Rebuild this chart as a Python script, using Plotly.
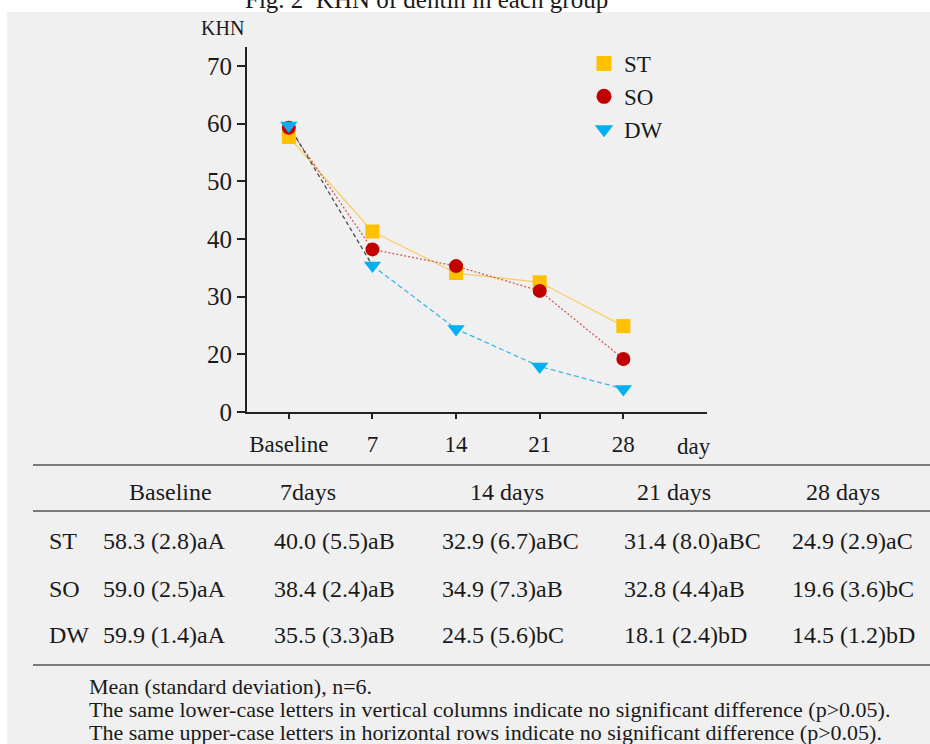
import plotly.graph_objects as go

# ---------------- data ----------------
x_labels = ["Baseline", "7", "14", "21", "28"]
groups = ["ST", "SO", "DW"]
st_values = [57.7, 41.3, 34.1, 32.5, 24.9]
so_values = [59.3, 38.2, 35.3, 31.0, 19.2]
dw_values = [59.7, 35.4, 24.4, 17.9, 14.0]
y_tick_vals = [10, 20, 30, 40, 50, 60, 70]
y_tick_text = ["0", "20", "30", "40", "50", "60", "70"]

table_headers = ["Baseline", "7days", "14 days", "21 days", "28 days"]
table_rows = {
    "ST": ["58.3 (2.8)aA", "40.0 (5.5)aB", "32.9 (6.7)aBC", "31.4 (8.0)aBC", "24.9 (2.9)aC"],
    "SO": ["59.0 (2.5)aA", "38.4 (2.4)aB", "34.9 (7.3)aB", "32.8 (4.4)aB", "19.6 (3.6)bC"],
    "DW": ["59.9 (1.4)aA", "35.5 (3.3)aB", "24.5 (5.6)bC", "18.1 (2.4)bD", "14.5 (1.2)bD"],
}
footnotes = [
    "Mean (standard deviation), n=6.",
    "The same lower-case letters in vertical columns indicate no significant difference (p>0.05).",
    "The same upper-case letters in horizontal rows indicate no significant difference (p>0.05).",
]
title_text = "Fig. 2\u00a0 KHN of dentin in each group"

# ---------------- layout helpers ----------------
L, R, T, B = 247, 707, 47, 412
W, H = R - L, B - T
SERIF = "Liberation Serif"
TXT = "#1a1a1a"


def px(x):
    return (x - L) / W


def py(y):
    return (B - y) / H


xs = list(range(len(x_labels)))

fig = go.Figure()

# lines
fig.add_trace(go.Scatter(x=xs, y=st_values, mode="lines",
                         line=dict(color="#f6cf6a", width=1.3),
                         showlegend=False, hoverinfo="skip"))
fig.add_trace(go.Scatter(x=xs, y=so_values, mode="lines",
                         line=dict(color="#d45a5a", width=1.3, dash="2px,2px"),
                         showlegend=False, hoverinfo="skip"))
# DW line: first segment dark grey dashed, rest blue dashed
fig.add_trace(go.Scatter(x=xs[:2], y=dw_values[:2], mode="lines",
                         line=dict(color="#4a4a4a", width=1.3, dash="4px,3px"),
                         showlegend=False, hoverinfo="skip"))
fig.add_trace(go.Scatter(x=xs[1:], y=dw_values[1:], mode="lines",
                         line=dict(color="#3fb6ea", width=1.3, dash="5px,3px"),
                         showlegend=False, hoverinfo="skip"))
# markers
fig.add_trace(go.Scatter(x=xs, y=st_values, mode="markers",
                         marker=dict(symbol="square", size=14, color="#ffc000"),
                         showlegend=False))
fig.add_trace(go.Scatter(x=xs, y=so_values, mode="markers",
                         marker=dict(symbol="circle", size=14, color="#c00000"),
                         showlegend=False))
fig.add_trace(go.Scatter(x=xs, y=dw_values, mode="markers",
                         marker=dict(symbol="triangle-down", size=15, color="#00b0f0"),
                         showlegend=False))

# legend-only traces
leg_styles = {
    "ST": dict(symbol="square", size=15, color="#ffc000"),
    "SO": dict(symbol="circle", size=15, color="#c00000"),
    "DW": dict(symbol="triangle-down", size=16, color="#00b0f0"),
}
for g in groups:
    fig.add_trace(go.Scatter(x=[None], y=[None], mode="markers", name=g,
                             marker=leg_styles[g]))

shapes = []
# grey background panel
shapes.append(dict(type="rect", xref="paper", yref="paper", layer="below",
                   x0=px(7), x1=px(935), y0=py(12), y1=py(750),
                   fillcolor="#f0f0f0", line=dict(width=0)))
# table rules
for yy in [465, 511, 665]:
    shapes.append(dict(type="line", xref="paper", yref="paper",
                       x0=px(33), x1=px(935), y0=py(yy), y1=py(yy),
                       line=dict(color="#555555", width=1.6)))

annotations = []


def add_text(text, x, y, size, xanchor="center", yanchor="middle"):
    annotations.append(dict(text=text, x=px(x), y=py(y), xref="paper", yref="paper",
                            showarrow=False, xanchor=xanchor, yanchor=yanchor,
                            font=dict(family=SERIF, size=size, color=TXT)))


add_text(title_text, 426, 15, 25, yanchor="bottom")
add_text("KHN", 222, 28, 20)
add_text("day", 694, 446, 23)

header_x = [170, 308, 507, 674, 843]
value_x = [101, 272, 440, 622, 790]
row_y = [541, 589, 635]
for hx, h in zip(header_x, table_headers):
    add_text(h, hx, 492, 24)
for ry, g in zip(row_y, groups):
    add_text(g, 47, ry, 24, xanchor="left")
    for vx, v in zip(value_x, table_rows[g]):
        add_text(v, vx, ry, 24, xanchor="left")

for fy, f in zip([686, 709, 732], footnotes):
    add_text(f, 87, fy, 22, xanchor="left")

fig.update_layout(
    width=930, height=744,
    margin=dict(l=L, r=930 - R, t=T, b=744 - B),
    paper_bgcolor="white",
    plot_bgcolor="rgba(0,0,0,0)",
    showlegend=True,
    legend=dict(x=px(584), y=py(42), xanchor="left", yanchor="top",
                bgcolor="rgba(0,0,0,0)", font=dict(family=SERIF, size=23, color=TXT),
                itemsizing="trace"),
    xaxis=dict(range=[-0.5, 5], tickvals=xs, ticktext=x_labels, showgrid=False,
               zeroline=False, showline=True, linecolor="#222222", linewidth=2,
               ticks="outside", ticklen=5, tickwidth=2, tickcolor="#222222",
               ticklabelstandoff=5,
               tickfont=dict(family=SERIF, size=23, color=TXT)),
    yaxis=dict(range=[10, 73.3], tickvals=y_tick_vals, ticktext=y_tick_text,
               showgrid=False, zeroline=False, showline=True, linecolor="#222222",
               linewidth=2, ticks="outside", ticklen=8, tickwidth=2,
               tickcolor="#222222",
               tickfont=dict(family=SERIF, size=25, color=TXT)),
    shapes=shapes,
    annotations=annotations,
    font=dict(family=SERIF, color=TXT),
)

fig.write_html("out.html", config={"displayModeBar": False},
               post_script="document.body.style.margin='0';document.body.style.padding='0';")
